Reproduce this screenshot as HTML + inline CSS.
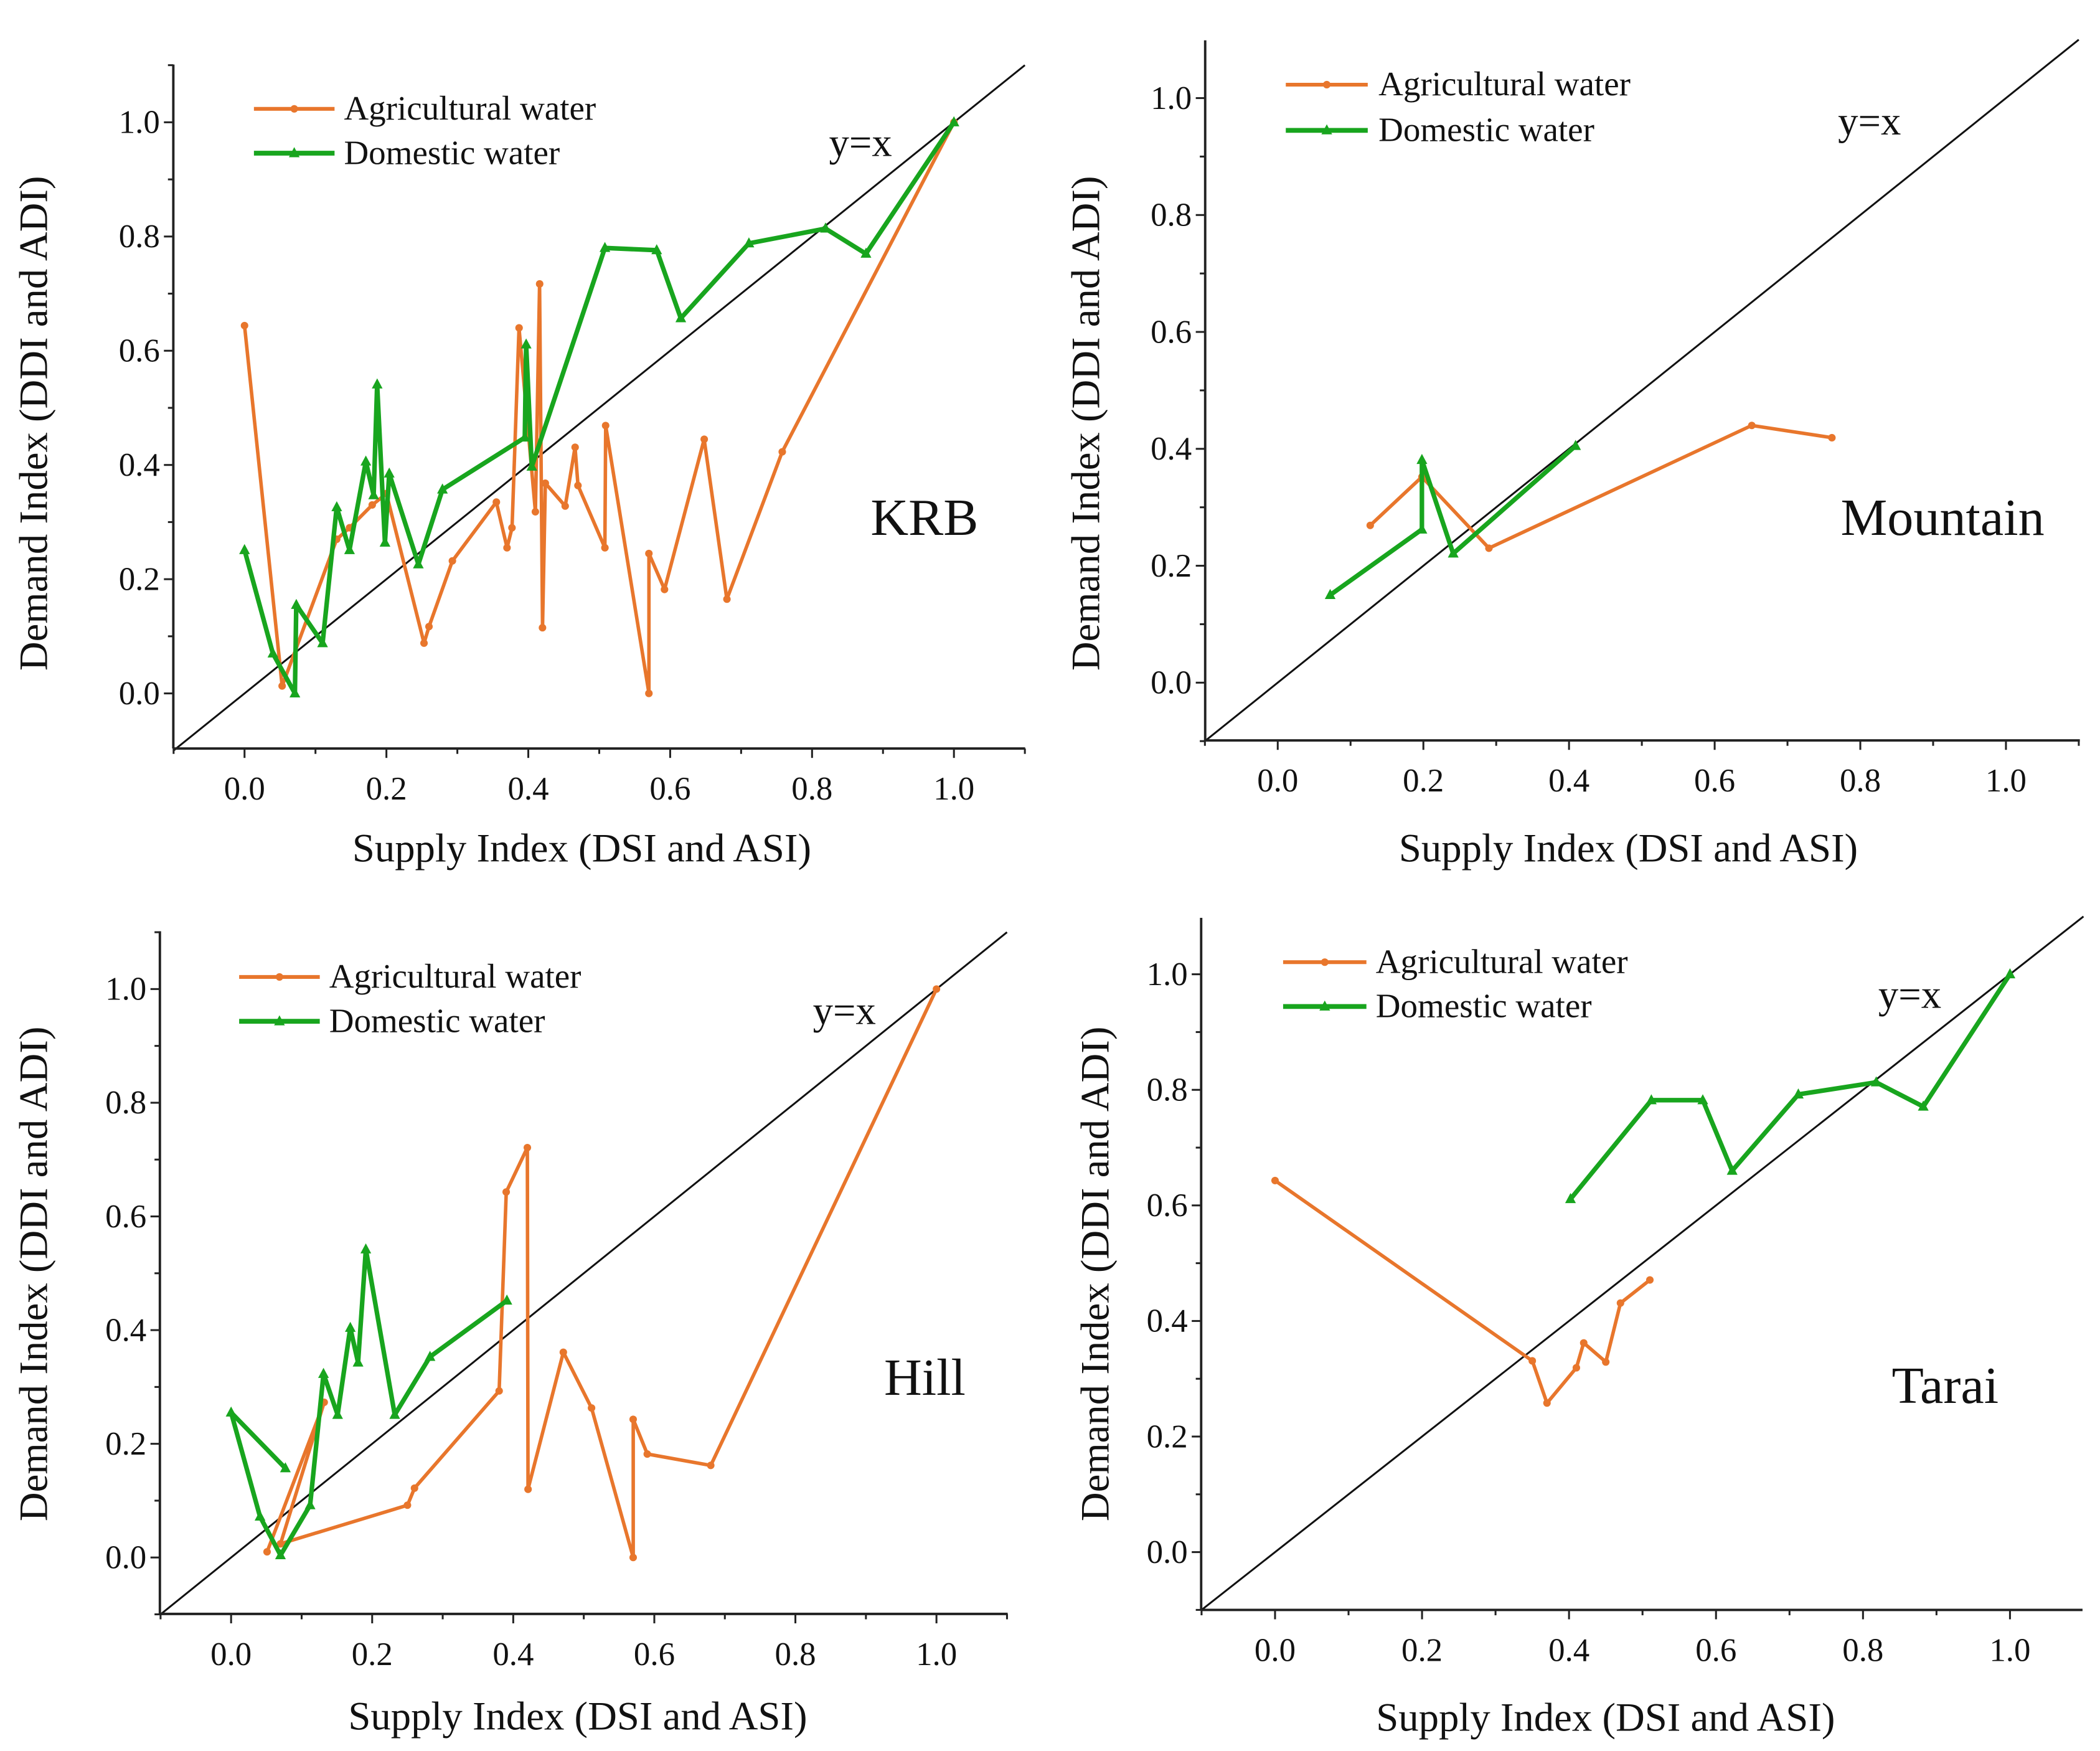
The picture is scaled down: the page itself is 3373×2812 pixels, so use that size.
<!DOCTYPE html>
<html><head><meta charset="utf-8"><style>
html,body{margin:0;padding:0;background:#fff}
svg{display:block}
svg text{font-family:"Liberation Serif","DejaVu Serif",serif;fill:#111}
</style></head><body>
<svg id="fig" width="3373" height="2812" viewBox="0 0 1563 1303" preserveAspectRatio="none" xmlns="http://www.w3.org/2000/svg"></svg>
<script>
// ---------- data ----------
const krbAgriX=[0,0.053,0.13,0.148,0.18,0.2,0.253,0.26,0.293,0.355,0.37,0.377,0.387,0.41,0.416,0.42,0.424,0.452,0.466,0.47,0.508,0.509,0.57,0.57,0.592,0.648,0.68,0.758,1];
const krbAgriY=[0.644,0.013,0.27,0.29,0.33,0.35,0.088,0.117,0.232,0.335,0.255,0.29,0.64,0.318,0.717,0.115,0.368,0.328,0.431,0.364,0.255,0.469,0.0,0.245,0.182,0.445,0.165,0.423,1];
const krbDomX=[0,0.04,0.071,0.073,0.11,0.13,0.148,0.171,0.182,0.187,0.198,0.204,0.245,0.279,0.395,0.397,0.405,0.508,0.581,0.615,0.711,0.819,0.876,1];
const krbDomY=[0.251,0.07,0.0,0.155,0.088,0.326,0.251,0.406,0.347,0.541,0.264,0.385,0.226,0.357,0.448,0.611,0.397,0.78,0.776,0.657,0.788,0.814,0.77,1];
const mtnAgriX=[0.127,0.198,0.29,0.651,0.761];
const mtnAgriY=[0.269,0.352,0.23,0.44,0.419];
const mtnDomX=[0.072,0.198,0.198,0.241,0.409];
const mtnDomY=[0.15,0.262,0.381,0.221,0.405];
const hillAgriX=[0.051,0.132,0.07,0.25,0.26,0.38,0.39,0.42,0.421,0.471,0.511,0.57,0.57,0.59,0.68,1];
const hillAgriY=[0.01,0.273,0.024,0.092,0.122,0.293,0.643,0.721,0.12,0.361,0.263,0.0,0.243,0.182,0.162,1];
const hillDomX=[0.077,0,0.041,0.07,0.112,0.131,0.151,0.169,0.18,0.191,0.232,0.282,0.391];
const hillDomY=[0.157,0.255,0.072,0.004,0.092,0.323,0.251,0.404,0.343,0.542,0.251,0.353,0.452];
const taraiAgriX=[0,0.35,0.37,0.41,0.42,0.45,0.47,0.51];
const taraiAgriY=[0.643,0.331,0.258,0.319,0.362,0.329,0.431,0.471];
const taraiDomX=[0.402,0.512,0.582,0.622,0.712,0.818,0.882,1];
const taraiDomY=[0.611,0.782,0.782,0.66,0.792,0.813,0.771,1];
const tickVals=[0,0.2,0.4,0.6,0.8,1.0];
const tickLabels=["0.0","0.2","0.4","0.6","0.8","1.0"];

const NS="http://www.w3.org/2000/svg";
const svg=document.getElementById('fig');
const FONT='"Liberation Serif", "DejaVu Serif", serif';
function mk(tag,attrs,parent){const e=document.createElementNS(NS,tag);for(const k in attrs)e.setAttribute(k,attrs[k]);if(tag==='text')e.setAttribute('font-family',FONT);(parent||svg).appendChild(e);return e;}
const ORANGE="#E8762C",GREEN="#18A51E";

const panels=[
 {id:'krb',name:'KRB',left:129,top:48,right:763,bottom:557,x0:182,x1:710,y0:516,y1:91,ytx:25,yty:315,xtx:433,xty:641,
  leg:[189,249,81,114,256],yx:[617,116],lab:[648,398],ax:krbAgriX,ay:krbAgriY,dx:krbDomX,dy:krbDomY},
 {id:'mountain',name:'Mountain',left:897,top:30,right:1548,bottom:551,x0:951,x1:1493,y0:508,y1:73,ytx:808,yty:315,xtx:1212,xty:641,
  leg:[957,1018,63,97,1026],yx:[1368,100],lab:[1370,398],ax:mtnAgriX,ay:mtnAgriY,dx:mtnDomX,dy:mtnDomY},
 {id:'hill',name:'Hill',left:119,top:693,right:750,bottom:1201,x0:172,x1:697,y0:1159,y1:736,ytx:25,yty:948,xtx:430,xty:1287,
  leg:[178,238,727,760,245],yx:[605,762],lab:[658,1038],ax:hillAgriX,ay:hillAgriY,dx:hillDomX,dy:hillDomY},
 {id:'tarai',name:'Tarai',left:894,top:683,right:1550,bottom:1198,x0:949,x1:1496,y0:1155,y1:725,ytx:815,yty:948,xtx:1195,xty:1288,
  leg:[955,1017,716,749,1024],yx:[1398,750],lab:[1408,1044],ax:taraiAgriX,ay:taraiAgriY,dx:taraiDomX,dy:taraiDomY}
];

panels.forEach(p=>{
  const g=mk('g',{});
  
  
  const X=v=>p.x0+(p.x1-p.x0)*v, Y=v=>p.y0+(p.y1-p.y0)*v;
  const d=mk('line',{x1:X(-0.1),y1:Y(-0.1),x2:X(1.1),y2:Y(1.1),stroke:'#111','stroke-width':1.4},g);
  
  
  const ya=mk('line',{x1:p.left,y1:p.top,x2:p.left,y2:p.bottom,stroke:'#222','stroke-width':1.8},g);
  
  
  const xa=mk('line',{x1:p.left,y1:p.bottom,x2:p.right,y2:p.bottom,stroke:'#222','stroke-width':1.8},g);
  
  
  for(let i=-1;i<=11;i++){
    const v=i/10, major=(i%2===0), len=major?7:4;
    const xp=X(v); if(xp>=p.left-0.5&&xp<=p.right+0.5) mk('line',{x1:xp,y1:p.bottom,x2:xp,y2:p.bottom+len,stroke:'#222','stroke-width':1.4},g);
    const yp=Y(v); if(yp>=p.top-0.5&&yp<=p.bottom+0.5) mk('line',{x1:p.left,y1:yp,x2:p.left-len,y2:yp,stroke:'#222','stroke-width':1.4},g);
  }
  tickVals.forEach((v,i)=>{
    const t=mk('text',{x:X(v),y:p.bottom+38,'font-size':24.5,'text-anchor':'middle'},g);
    t.textContent=tickLabels[i];
    
    
    const u=mk('text',{x:p.left-10,y:Y(v)+8,'font-size':24.5,'text-anchor':'end'},g);
    u.textContent=tickLabels[i];
    
    
  });
  const xt=mk('text',{x:p.xtx,y:p.xty,'font-size':30,'text-anchor':'middle'},g);
  xt.textContent='Supply Index (DSI and ASI)';
  
  
  const yt=mk('text',{x:p.ytx,y:p.yty,'font-size':30,'text-anchor':'middle',transform:`rotate(-90 ${p.ytx} ${p.yty}) translate(0 10)`},g);
  yt.textContent='Demand Index (DDI and ADI)';
  
  
  const pts=(xs,ys)=>xs.map((x,i)=>X(x).toFixed(1)+','+Y(ys[i]).toFixed(1)).join(' ');
  const la=mk('polyline',{points:pts(p.ax,p.ay),fill:'none',stroke:ORANGE,'stroke-width':2.6,'stroke-linejoin':'round'},g);
  
  
  p.ax.forEach((x,i)=>{const c=mk('circle',{cx:X(x),cy:Y(p.ay[i]),r:2.8,fill:ORANGE},g);
    
    });
  const ld=mk('polyline',{points:pts(p.dx,p.dy),fill:'none',stroke:GREEN,'stroke-width':3.4,'stroke-linejoin':'round'},g);
  
  
  p.dx.forEach((x,i)=>{const cx=X(x),cy=Y(p.dy[i]);const tr=mk('polygon',{points:`${cx},${cy-4.5} ${cx-4},${cy+3} ${cx+4},${cy+3}`,fill:GREEN},g);
    
    });
  const [lx1,lx2,ly1,ly2,tx]=p.leg;
  const lg=mk('g',{},g);
  
  
  mk('line',{x1:lx1,y1:ly1,x2:lx2,y2:ly1,stroke:ORANGE,'stroke-width':2.8},lg);
  mk('circle',{cx:(lx1+lx2)/2,cy:ly1,r:2.8,fill:ORANGE},lg);
  const t1=mk('text',{x:tx,y:ly1+8,'font-size':25.5},lg); t1.textContent='Agricultural water';
  
  
  mk('line',{x1:lx1,y1:ly2,x2:lx2,y2:ly2,stroke:GREEN,'stroke-width':3.6},lg);
  const mx=(lx1+lx2)/2; mk('polygon',{points:`${mx},${ly2-4.5} ${mx-4},${ly2+3} ${mx+4},${ly2+3}`,fill:GREEN},lg);
  const t2=mk('text',{x:tx,y:ly2+8,'font-size':25.5},lg); t2.textContent='Domestic water';
  
  
  const yl=mk('text',{x:p.yx[0],y:p.yx[1],'font-size':30},g); yl.textContent='y=x';
  
  
  const pl=mk('text',{x:p.lab[0],y:p.lab[1],'font-size':39},g); pl.textContent=p.name;
  
  
});
</script>
</body></html>
